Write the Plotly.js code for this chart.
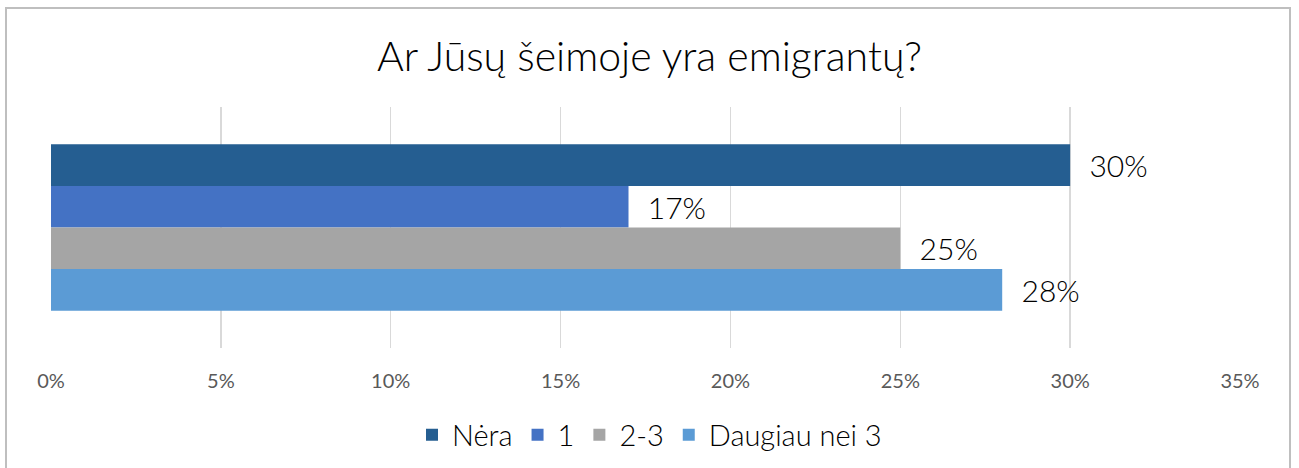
<!DOCTYPE html>
<html>
<head>
<meta charset="utf-8">
<script src="https://cdn.plot.ly/plotly-3.0.1.min.js"></script>
<style>
html,body{margin:0;padding:0;background:#fff;}
#wrap{position:relative;width:1299px;height:468px;}
#chart{width:1299px;height:468px;}
#frame{position:absolute;left:5px;top:7px;width:1282px;height:470px;border:2px solid #BFBFBF;border-bottom:none;pointer-events:none;}
</style>
</head>
<body>
<div id="wrap"><div id="chart"></div><div id="frame"></div></div>
<script>
const seriesNames = ['Nėra', '1', '2-3', 'Daugiau nei 3'];
const seriesValues = [0.30, 0.17, 0.25, 0.28];
const seriesColors = ['#255E91', '#4472C4', '#A5A5A5', '#5B9BD5'];
const category = ['Ar Jūsų šeimoje yra emigrantų?'];
const titleText = 'Ar Jūsų šeimoje yra emigrantų?';
const tickVals = [0, 0.05, 0.10, 0.15, 0.20, 0.25, 0.30, 0.35];

const traces = seriesNames.map((n, i) => ({
  type: 'bar',
  orientation: 'h',
  name: n,
  x: [seriesValues[i]],
  y: category,
  marker: {color: seriesColors[i]},
  texttemplate: '\u00a0\u00a0%{x:.0%}',
  textposition: 'outside',
  cliponaxis: false,
  textfont: {family: 'Lato, sans-serif', size: 30, weight: 300, color: '#000000'},
  hoverinfo: 'none'
}));

const layout = {
  width: 1299, height: 468,
  margin: {l: 51, r: 59, t: 107, b: 120},
  paper_bgcolor: '#ffffff', plot_bgcolor: '#ffffff',
  font: {family: 'Lato, sans-serif'},
  title: {text: titleText, font: {family: 'Lato, sans-serif', size: 41, weight: 300, color: '#000000'},
          x: 0.5, xanchor: 'center', y: 1 - 57/468, yanchor: 'middle', yref: 'container'},
  barmode: 'group',
  bargap: 0.31,
  bargroupgap: 0,
  xaxis: {range: [0, 0.35], tickvals: tickVals, tickformat: '.0%',
          showgrid: true, gridcolor: '#D9D9D9', gridwidth: 1.5,
          zeroline: false, showline: false, ticks: '',
          ticklabelstandoff: 19,
          tickfont: {family: 'Lato, sans-serif', size: 20, color: '#595959'}},
  yaxis: {autorange: 'reversed', showticklabels: false, showgrid: false, zeroline: false, showline: false, ticks: ''},
  showlegend: true,
  legend: {orientation: 'h', x: 0.5, xanchor: 'center', xref: 'container',
           y: 1 - 435/468, yanchor: 'middle', yref: 'container',
           traceorder: 'normal',
           font: {family: 'Lato, sans-serif', size: 29, weight: 300, color: '#000000'},
           itemwidth: 30}
};

Plotly.newPlot('chart', traces, layout, {displayModeBar: false, staticPlot: true});
</script>
</body>
</html>
